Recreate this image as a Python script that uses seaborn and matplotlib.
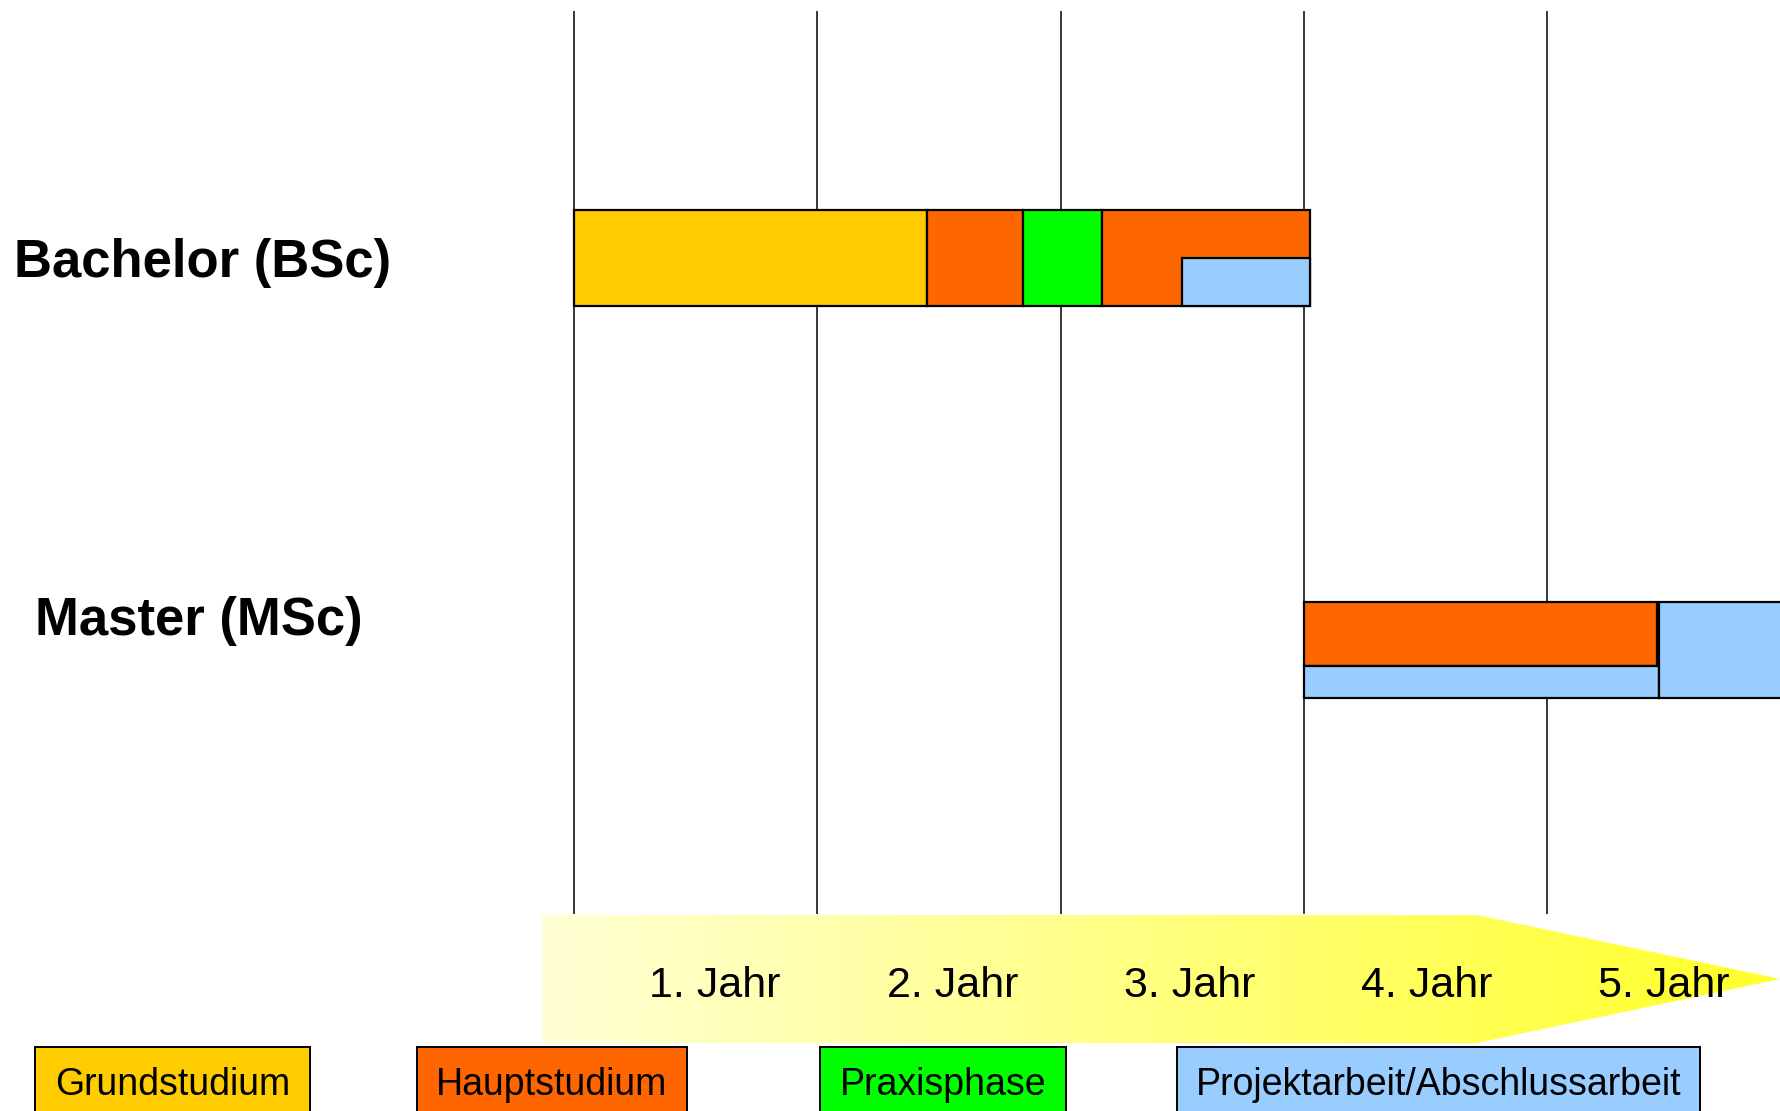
import numpy as np
import pandas as pd
import matplotlib
matplotlib.use("Agg")
import matplotlib.pyplot as plt
from matplotlib.patches import Polygon, Rectangle
from matplotlib.colors import LinearSegmentedColormap
import seaborn as sns

# Studiengänge (Zeilen), Phasen und Jahre
studiengaenge = ["Bachelor (BSc)", "Master (MSc)"]
phasen = ["Grundstudium", "Hauptstudium", "Praxisphase", "Projektarbeit/Abschlussarbeit"]
phasen_farben = ["#FFCC00", "#FF6600", "#00FF00", "#99CCFF"]
jahre = ["1. Jahr", "2. Jahr", "3. Jahr", "4. Jahr", "5. Jahr"]

# Abschnitte: Studiengang, Phase, Beginn und Ende (in Jahren)
abschnitt_zeile = [0, 0, 0, 0, 0, 1, 1, 1]
abschnitt_phase = [0, 1, 2, 1, 3, 1, 3, 3]
abschnitt_start = [0.0, 1.45, 1.845, 2.172, 2.5, 3.0, 3.0, 4.46]
abschnitt_ende = [1.45, 1.845, 2.172, 3.027, 3.027, 4.45, 4.46, 5.0]
# welcher Teil der Balkenhöhe belegt ist (oben, unten)
abschnitt_oben = [0, 0, 0, 0, 0.5, 0, 2 / 3, 0]
abschnitt_unten = [1, 1, 1, 1, 1, 2 / 3, 1, 1]

df = pd.DataFrame({
    "zeile": abschnitt_zeile,
    "phase": abschnitt_phase,
    "start": abschnitt_start,
    "ende": abschnitt_ende,
    "oben": abschnitt_oben,
    "unten": abschnitt_unten,
})

sns.set_theme(style="white")
plt.rcParams["font.family"] = ["Liberation Sans", "DejaVu Sans"]
plt.rcParams["text.color"] = "black"

W, H = 1780, 1111
fig = plt.figure(figsize=(W / 100, H / 100), dpi=100)

# Hauptachse: x in Jahren, y in Pixelzeilen
x0, px_jahr = 574, 243.3
ax = fig.add_axes([0, 0, 1, 1])
ax.set_xlim(-x0 / px_jahr, (W - x0) / px_jahr)
ax.set_ylim(H, 0)
ax.axis("off")

zeilen_mitte = [258, 650]
balken_hoehe = 96

# senkrechte Jahreslinien
ax.vlines(range(5), 11, 914, color="black", lw=1.1, zorder=1)

for _, r in df.iterrows():
    oben = zeilen_mitte[int(r["zeile"])] - balken_hoehe / 2
    ax.barh(oben + r["oben"] * balken_hoehe, r["ende"] - r["start"],
            height=(r["unten"] - r["oben"]) * balken_hoehe, left=r["start"],
            align="edge", color=phasen_farben[int(r["phase"])],
            edgecolor="black", lw=1.6, zorder=2)

# Ebene in Pixelkoordinaten für Pfeil, Beschriftungen und Legende
lay = fig.add_axes([0, 0, 1, 1], zorder=0)
lay.set_xlim(0, W)
lay.set_ylim(H, 0)
lay.axis("off")
lay.patch.set_alpha(0)
ax.set_zorder(1)

pfeil = Polygon([(542, 915), (1477, 915), (1780, 979), (1477, 1043), (542, 1043)],
                closed=True, facecolor="none", edgecolor="none")
lay.add_patch(pfeil)
cmap = LinearSegmentedColormap.from_list("gelb", ["#FFFFD4", "#FFFF2A"])
im = lay.imshow(np.linspace(0, 1, 512)[None, :], cmap=cmap, aspect="auto",
                extent=(542, 1780, 1043, 915), zorder=0)
im.set_clip_path(pfeil)
lay.set_xlim(0, W)
lay.set_ylim(H, 0)

for i, j in enumerate(jahre):
    ax.text(0.58 + 0.975 * i, 997, j, fontsize=31, ha="center", va="baseline")

for name, x, y in zip(studiengaenge, [14, 35], [277, 635]):
    lay.text(x, y, name, fontsize=38, fontweight="bold", ha="left", va="baseline")

leg_x = [35, 417, 820, 1177]
leg_b = [275, 270, 246, 523]
for name, farbe, x, b in zip(phasen, phasen_farben, leg_x, leg_b):
    lay.add_patch(Rectangle((x, 1047), b, 90, facecolor=farbe, edgecolor="black", lw=1.4))
    lay.text(x + b / 2, 1095, name, fontsize=27, ha="center", va="baseline")

fig.savefig("out.png", dpi=100)
